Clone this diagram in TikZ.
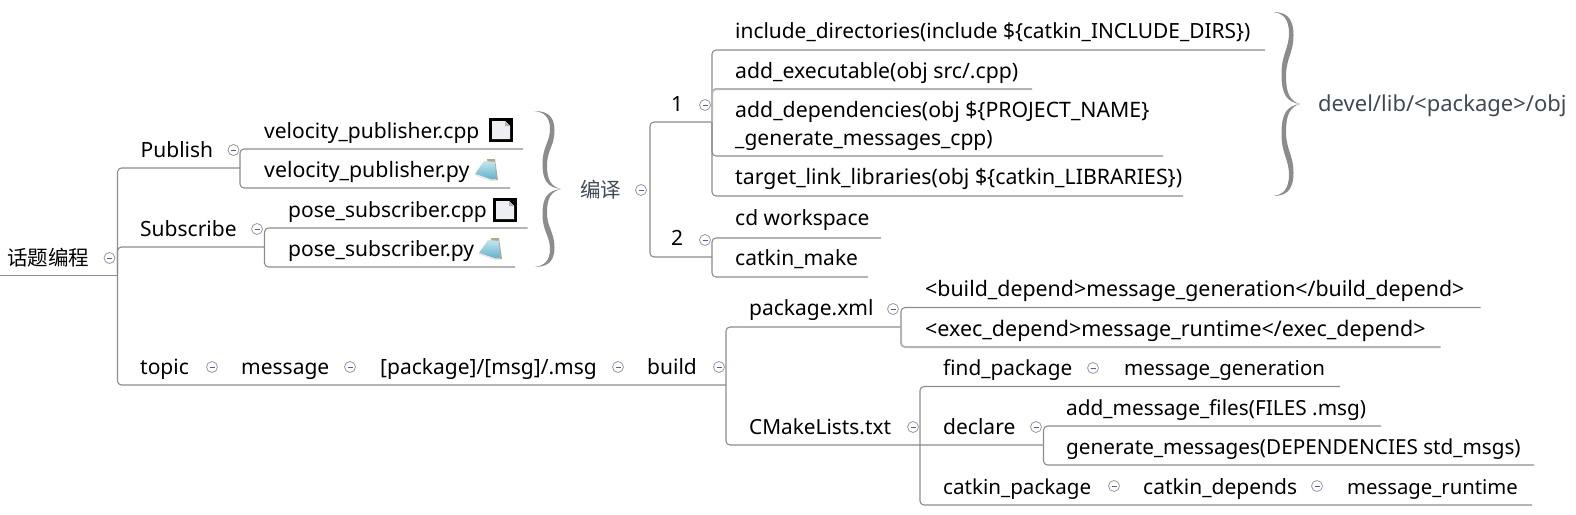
\documentclass[tikz,border=0pt]{standalone}
\usepackage{fontspec}
\setmainfont{Noto Sans}
\newfontfamily\cjk{Noto Sans CJK SC}
\definecolor{slate}{HTML}{3F4A55}
\definecolor{linegray}{HTML}{8C8C8C}
\definecolor{lightline}{HTML}{B4B4B4}
\definecolor{padtan}{HTML}{B8A888}
\definecolor{padlight}{HTML}{C4E6F0}
\definecolor{paddark}{HTML}{62B4CC}
\definecolor{docpage}{HTML}{EDEFF2}
\newcommand{\mmbracehalf}{%
  \fill[linegray] (-14,-1) .. controls (-2,-1) and (6.5,-0.95) .. (6.5,-0.75)
    .. controls (6.5,-0.55) and (-1,-0.5) .. (-1,-0.3)
    .. controls (-1,-0.12) and (3,-0.03) .. (13,0)
    .. controls (0,-0.02) and (-5.5,-0.1) .. (-5.5,-0.32)
    .. controls (-5.5,-0.55) and (2,-0.6) .. (2,-0.77)
    .. controls (2,-0.92) and (-4,-0.99) .. (-14,-1) -- cycle;}
\newcommand{\mmbrace}[3]{%
  \begin{scope}[shift={(#1,#2)},yscale=#3]\mmbracehalf\end{scope}
  \begin{scope}[shift={(#1,#2)},yscale=-#3]\mmbracehalf\end{scope}}
\newcommand{\docicon}[2]{%
  \fill[black] (#1,#2) rectangle ++(24,24);
  \fill[docpage] (#1+3,#2+3) -- ++(13,0) -- ++(5,5) -- ++(0,13) -- ++(-18,0) -- cycle;
  \fill[gray!60] (#1+16,#2+3) -- ++(0,5) -- ++(5,0) -- cycle;}
\newcommand{\padicon}[2]{%
  \fill[padtan] (#1+12,#2) -- (#1+20,#2) -- (#1+23,#2+21) -- (#1+16,#2+21) -- cycle;
  \shade[top color=padlight,bottom color=paddark] (#1+9,#2+2) -- (#1+20,#2+3) -- (#1+21,#2+20) -- (#1+15,#2+20) -- (#1,#2+15) -- cycle;
  \draw[white!80!gray,line width=1.5pt] (#1,#2+15.5) -- (#1+15,#2+21) -- (#1+21,#2+21);}
\tikzset{
  lbl/.style={anchor=base west,inner sep=0pt,font=\fontsize{21}{25}\selectfont,text=black},
  slbl/.style={lbl,text=slate,font=\fontsize{22}{26}\selectfont},
  fsize/.style={font=\fontsize{#1}{25}\selectfont},
  toggle/.style={circle,draw=gray!80,line width=0.8pt,fill=white,minimum size=11pt,inner sep=0pt,
    path picture={\draw[blue!30!gray,line width=0.8pt] ([xshift=-2.5pt]path picture bounding box.center) -- ([xshift=2.5pt]path picture bounding box.center);}},
  link/.style={draw=linegray,line width=1.1pt,rounded corners=4pt},
  linkthick/.style={draw=lightline,line width=2pt,rounded corners=4pt}
}
\begin{document}
\begin{tikzpicture}[x=1pt,y=-1pt]
\useasboundingbox (0,0) rectangle (1576,514);
% coordinates: junctions and ends of underlines
\coordinate (rootL) at (0,275.5);
\coordinate (rootJ) at (117.5,275.5);
\coordinate (pubE) at (240,168);
\coordinate (subE) at (264.5,247);
\coordinate (topE) at (726,385);
\coordinate (v1E) at (523,149);
\coordinate (v2E) at (510,188);
\coordinate (p1E) at (527.5,228);
\coordinate (p2E) at (515,267);
\coordinate (pubJ) at (240,168);
\coordinate (subJ) at (264.5,247);
\coordinate (bianJ) at (650,190);
\coordinate (oneE) at (712,122);
\coordinate (twoE) at (712,257);
\coordinate (oneJ) at (712,122);
\coordinate (twoJ) at (712,257);
\coordinate (a1E) at (1265,50);
\coordinate (a2E) at (1032,89);
\coordinate (a3E) at (1163,156);
\coordinate (a4E) at (1183,196);
\coordinate (c1E) at (881,238);
\coordinate (c2E) at (868,277);
\coordinate (buildJ) at (726,385);
\coordinate (pkgE) at (901,327);
\coordinate (pkgJ) at (901,327);
\coordinate (cmJ) at (920,445);
\coordinate (declE) at (1043.5,445);
\coordinate (declJ) at (1043.5,445);
\coordinate (bdE) at (1480.5,307.5);
\coordinate (edE) at (1440.5,347);
\coordinate (fpE) at (1340,386.5);
\coordinate (ckE) at (1532,505);
\coordinate (amE) at (1381,426);
\coordinate (gmE) at (1534,465);
% connectors
\draw[link] (rootL) -- (rootJ);
\draw[link] (rootJ) |- (pubE);
\draw[link] (rootJ) |- (subE);
\draw[link] (rootJ) |- (topE);
\draw[link] (pubJ) |- (v1E);
\draw[link] (pubJ) |- (v2E);
\draw[link] (subJ) |- (p1E);
\draw[link] (subJ) |- (p2E);
\draw[link] (bianJ) |- (oneE);
\draw[link] (bianJ) |- (twoE);
\draw[link] (oneJ) |- (a1E);
\draw[linkthick] (oneJ) |- (a2E);
\draw[link] (oneJ) |- (a3E);
\draw[link] (oneJ) |- (a4E);
\draw[link] (twoJ) |- (c1E);
\draw[link] (twoJ) |- (c2E);
\draw[link] (buildJ) |- (pkgE);
\draw[link] (buildJ) |- (declE);
\draw[link] (pkgJ) |- (bdE);
\draw[linkthick] (pkgJ) |- (edE);
\draw[link] (cmJ) |- (fpE);
\draw[link] (cmJ) |- (ckE);
\draw[link] (declJ) |- (amE);
\draw[link] (declJ) |- (gmE);
% braces
\mmbrace{548}{189}{78}
\mmbrace{1287}{104}{92}
% icons
\docicon{489}{118}
\padicon{475}{159}
\docicon{493}{198}
\padicon{479}{238}
% text
\node[lbl,font=\cjk\fontsize{20.5}{24}\selectfont] (root) at (7,265) {话题编程};
\node[lbl] (publish) at (140.5,157) {Publish};
\node[lbl] (subscribe) at (140,236) {Subscribe};
\node[lbl] (velcpp) at (264,138) {velocity\_publisher.cpp};
\node[lbl,fsize=21.3] (velpy) at (264,177) {velocity\_publisher.py};
\node[lbl] (posecpp) at (288,217) {pose\_subscriber.cpp};
\node[lbl] (posepy) at (288,256) {pose\_subscriber.py};
\node[slbl,font=\cjk\fontsize{20.5}{24}\selectfont] (bianyi) at (580,197) {编译};
\node[lbl] (one) at (671,111) {1};
\node[lbl] (two) at (671,245) {2};
\node[lbl,fsize=20.9] (incl) at (735,38) {include\_directories(include \$\{catkin\_INCLUDE\_DIRS\})};
\node[lbl,fsize=21.2] (addex) at (735,78) {add\_executable(obj src/.cpp)};
\node[lbl,fsize=21.25] (adddep) at (735,117) {add\_dependencies(obj \$\{PROJECT\_NAME\}};
\node[lbl] (adddepb) at (735,145) {\_generate\_messages\_cpp)};
\node[lbl,fsize=21.3] (target) at (735,184) {target\_link\_libraries(obj \$\{catkin\_LIBRARIES\})};
\node[lbl] (cdw) at (735,225) {cd workspace};
\node[lbl] (ckm) at (735,265) {catkin\_make};
\node[slbl] (devel) at (1318,111) {devel/lib/<package>/obj};
\node[lbl] (topic) at (140,374) {topic};
\node[lbl] (message) at (241,374) {message};
\node[lbl] (pkgmsg) at (380,374) {[package]/[msg]/.msg};
\node[lbl] (build) at (647,374) {build};
\node[lbl] (pkgxml) at (749,315) {package.xml};
\node[lbl,fsize=20.8] (cmake) at (749,434) {CMakeLists.txt};
\node[lbl,fsize=21.35] (bd) at (925,296) {<build\_depend>message\_generation</build\_depend>};
\node[lbl,fsize=21.45] (ed) at (925,336) {<exec\_depend>message\_runtime</exec\_depend>};
\node[lbl,fsize=20.8] (fp) at (943,375) {find\_package};
\node[lbl,fsize=20.5] (mg) at (1124,375) {message\_generation};
\node[lbl] (decl) at (943,434) {declare};
\node[lbl,fsize=20.8] (am) at (1066,415) {add\_message\_files(FILES .msg)};
\node[lbl,fsize=20.7] (gm) at (1066,454) {generate\_messages(DEPENDENCIES std\_msgs)};
\node[lbl,fsize=20.6] (ckp) at (943,494) {catkin\_package};
\node[lbl] (ckd) at (1143,494) {catkin\_depends};
\node[lbl,fsize=20.3] (mr) at (1347,494) {message\_runtime};
% toggles
\node[toggle] (t1) at (109.5,258) {};
\node[toggle] (t2) at (233.5,150) {};
\node[toggle] (t3) at (257,229) {};
\node[toggle] (t4) at (641,190) {};
\node[toggle] (t5) at (705,105) {};
\node[toggle] (t6) at (705,240) {};
\node[toggle] (t7) at (212,367) {};
\node[toggle] (t8) at (350,367) {};
\node[toggle] (t9) at (618,367) {};
\node[toggle] (t10) at (719,367) {};
\node[toggle] (t11) at (893,309) {};
\node[toggle] (t12) at (913,427) {};
\node[toggle] (t13) at (1093,368) {};
\node[toggle] (t14) at (1036,427) {};
\node[toggle] (t15) at (1114,486) {};
\node[toggle] (t16) at (1317,486) {};
\end{tikzpicture}
\end{document}
